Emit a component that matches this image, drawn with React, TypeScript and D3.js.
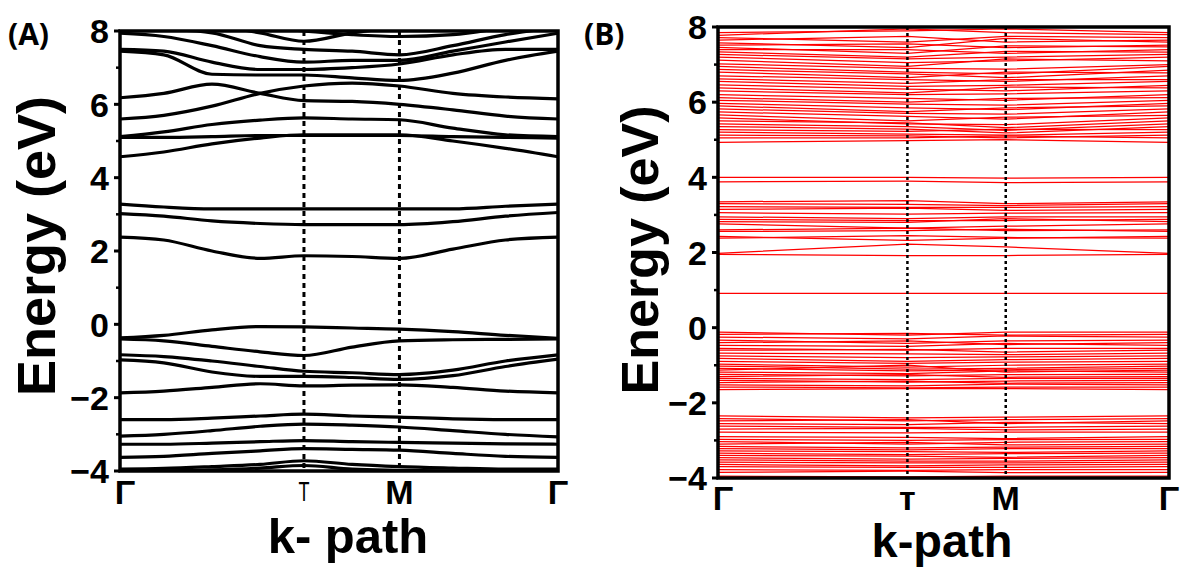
import React from 'react';
import * as d3 from 'd3';

// ---------- DATA ----------
const kLabelsA = ['Γ', 'T', 'M', 'Γ'];
const kLabelsB = ['Γ', 'т', 'M', 'Γ'];
const kTicks = [0, 0.42, 0.638, 1];
const kGridA = [0, 0.1, 0.21, 0.32, 0.42, 0.53, 0.638, 0.76, 0.88, 1];
const yTicks = [-4, -2, 0, 2, 4, 6, 8];
const yMinor = [-3, -1, 1, 3, 5, 7];

// Panel A bands (values at kGridA)
const bandsAcond = [
  [4.57, 4.7, 4.92, 5.08, 5.17, 5.17, 5.17, 5.0, 4.8, 4.57],
  [5.1, 5.1, 5.12, 5.15, 5.15, 5.15, 5.15, 5.12, 5.1, 5.08],
  [5.12, 5.25, 5.45, 5.57, 5.63, 5.6, 5.58, 5.35, 5.17, 5.12],
  [5.6, 5.7, 5.95, 6.3, 6.5, 6.58, 6.5, 6.3, 6.2, 6.15],
  [6.18, 6.3, 6.55, 6.3, 6.1, 6.08, 6.0, 5.85, 5.68, 5.6],
  [7.45, 7.35, 6.82, 6.8, 6.8, 6.72, 6.65, 6.85, 7.2, 7.45],
  [7.5, 7.45, 7.15, 6.95, 6.95, 7.0, 7.1, 7.35, 7.5, 7.5],
  [7.94, 7.85, 7.6, 7.3, 7.15, 7.2, 7.2, 7.45, 7.7, 7.94],
  [8.1, 8.05, 7.95, 7.6, 7.5, 7.45, 7.35, 7.6, 7.9, 8.1],
  [8.3, 8.25, 8.15, 7.95, 7.72, 7.95, 8.1, 8.2, 8.25, 8.3],
  [8.4, 8.3, 8.2, 8.1, 8.0, 7.9, 7.85, 7.9, 8.1, 8.3],
];
const bandsAgap = [
  [3.28, 3.2, 3.15, 3.15, 3.15, 3.15, 3.15, 3.15, 3.22, 3.28],
  [3.02, 2.95, 2.82, 2.75, 2.72, 2.72, 2.72, 2.8, 2.95, 3.05],
  [2.38, 2.3, 2.0, 1.8, 1.87, 1.85, 1.8, 2.05, 2.3, 2.38],
];
const bandsAval = [
  [-0.37, -0.3, -0.15, -0.06, -0.07, -0.1, -0.13, -0.2, -0.3, -0.38],
  [-0.4, -0.45, -0.6, -0.75, -0.85, -0.62, -0.45, -0.42, -0.41, -0.4],
  [-0.83, -0.88, -1.0, -1.15, -1.28, -1.32, -1.37, -1.25, -1.0, -0.83],
  [-0.97, -1.05, -1.3, -1.42, -1.42, -1.45, -1.5, -1.4, -1.15, -0.95],
  [-1.87, -1.82, -1.72, -1.62, -1.68, -1.66, -1.65, -1.72, -1.82, -1.87],
  [-2.6, -2.6, -2.56, -2.5, -2.45, -2.5, -2.53, -2.58, -2.6, -2.6],
  [-3.05, -3.0, -2.9, -2.78, -2.72, -2.75, -2.8, -2.9, -3.0, -3.07],
  [-3.27, -3.27, -3.24, -3.2, -3.17, -3.2, -3.22, -3.24, -3.26, -3.27],
  [-3.63, -3.6, -3.52, -3.45, -3.39, -3.41, -3.43, -3.52, -3.6, -3.63],
  [-3.95, -3.93, -3.88, -3.82, -3.72, -3.82, -3.88, -3.92, -3.95, -3.95],
  [-4.03, -4.0, -3.97, -3.92, -3.85, -3.95, -3.98, -4.0, -4.0, -4.03],
];

// Panel B bands (values at Γ, т, M, Γ)
const bandsBcond = [
  [7.85, 7.9, 7.95, 7.85], [7.78, 7.95, 7.85, 7.8], [7.72, 7.6, 7.75, 7.72],
  [7.65, 7.75, 7.6, 7.65], [7.58, 7.45, 7.7, 7.6], [7.52, 7.55, 7.45, 7.52],
  [7.46, 7.3, 7.5, 7.47], [7.4, 7.4, 7.3, 7.4], [7.34, 7.2, 7.35, 7.33],
  [7.27, 7.15, 7.2, 7.27], [7.2, 7.05, 7.1, 7.2], [7.12, 6.95, 7.15, 7.1],
  [7.02, 6.9, 6.88, 7.0], [6.95, 6.8, 6.75, 6.95], [6.87, 6.75, 6.65, 6.85],
  [6.8, 6.65, 6.8, 6.78], [6.7, 6.6, 6.55, 6.7], [6.62, 6.5, 6.6, 6.6],
  [6.55, 6.42, 6.45, 6.55], [6.46, 6.35, 6.3, 6.45], [6.38, 6.25, 6.4, 6.38],
  [6.3, 6.2, 6.22, 6.3], [6.2, 6.1, 6.05, 6.2], [6.12, 6.0, 6.1, 6.12],
  [6.05, 5.95, 5.92, 6.05], [5.97, 5.85, 5.8, 5.97], [5.9, 5.75, 5.85, 5.9],
  [5.82, 5.7, 5.68, 5.82], [5.74, 5.62, 5.55, 5.74], [5.66, 5.5, 5.6, 5.65],
  [5.58, 5.42, 5.4, 5.58], [5.5, 5.45, 5.32, 5.5], [5.42, 5.35, 5.25, 5.42],
  [5.35, 5.28, 5.18, 5.35], [5.27, 5.22, 5.28, 5.27], [5.2, 5.15, 5.12, 5.2],
  [5.12, 5.1, 5.05, 5.12], [5.05, 5.05, 5.1, 5.05], [4.93, 4.98, 5.0, 4.93],
];
const bandsBmid = [
  [4.0, 4.0, 3.98, 4.0], [3.88, 3.9, 3.86, 3.88],
  [3.35, 3.38, 3.3, 3.35], [3.3, 3.28, 3.25, 3.3], [3.22, 3.2, 3.2, 3.22],
  [3.15, 3.18, 3.12, 3.15], [3.06, 3.02, 3.05, 3.06], [2.95, 2.9, 2.95, 2.95],
  [2.88, 2.85, 2.85, 2.88], [2.82, 2.8, 2.9, 2.82], [2.76, 2.65, 2.7, 2.76],
  [2.6, 2.65, 2.58, 2.6], [2.56, 2.58, 2.62, 2.56], [2.43, 2.32, 2.38, 2.43],
  [2.38, 2.45, 2.4, 2.38], [1.98, 2.22, 2.15, 1.98], [1.95, 1.92, 1.92, 1.95],
  [0.91, 0.91, 0.91, 0.91],
];
const bandsBval1 = [
  [-0.12, -0.2, -0.12, -0.12], [-0.18, -0.15, -0.2, -0.18], [-0.25, -0.3, -0.22, -0.25],
  [-0.33, -0.42, -0.35, -0.33], [-0.4, -0.35, -0.45, -0.4], [-0.47, -0.5, -0.42, -0.47],
  [-0.55, -0.6, -0.55, -0.55], [-0.6, -0.58, -0.65, -0.6], [-0.68, -0.7, -0.72, -0.68],
  [-0.75, -0.8, -0.78, -0.75], [-0.82, -0.9, -0.85, -0.82], [-0.9, -0.95, -0.92, -0.9],
  [-0.97, -1.05, -1.0, -0.97], [-1.02, -1.1, -1.08, -1.02], [-1.08, -1.15, -1.12, -1.08],
  [-1.13, -1.0, -1.18, -1.13], [-1.18, -1.22, -1.15, -1.18], [-1.24, -1.28, -1.25, -1.24],
  [-1.3, -1.25, -1.32, -1.3], [-1.35, -1.38, -1.35, -1.35], [-1.4, -1.45, -1.42, -1.4],
  [-1.46, -1.42, -1.48, -1.46], [-1.52, -1.55, -1.5, -1.52], [-1.58, -1.6, -1.58, -1.58],
  [-1.65, -1.62, -1.62, -1.65],
];
const bandsBval2 = [
  [-2.35, -2.4, -2.38, -2.35], [-2.42, -2.48, -2.45, -2.42], [-2.48, -2.45, -2.55, -2.48],
  [-2.55, -2.58, -2.52, -2.55], [-2.62, -2.65, -2.65, -2.62], [-2.7, -2.68, -2.72, -2.7],
  [-2.78, -2.8, -2.78, -2.78], [-2.9, -2.92, -2.95, -2.9], [-2.97, -3.0, -2.98, -2.97],
  [-3.03, -3.1, -3.05, -3.03], [-3.1, -3.05, -3.12, -3.1], [-3.16, -3.2, -3.18, -3.16],
  [-3.22, -3.25, -3.22, -3.22], [-3.28, -3.3, -3.32, -3.28], [-3.34, -3.38, -3.35, -3.34],
  [-3.4, -3.42, -3.45, -3.4], [-3.46, -3.5, -3.48, -3.46], [-3.52, -3.55, -3.55, -3.52],
  [-3.58, -3.6, -3.6, -3.58], [-3.64, -3.68, -3.65, -3.64], [-3.7, -3.72, -3.72, -3.7],
  [-3.78, -3.8, -3.78, -3.78], [-3.85, -3.82, -3.86, -3.85], [-3.95, -3.97, -3.95, -3.95],
];

// ---------- COMPONENTS ----------
const FONT = '"Liberation Sans", Arial, sans-serif';

type PanelProps = {
  id: string;
  left: number; right: number; top: number; bottom: number;
  bands: number[][];
  kGrid: number[];
  curved: boolean;
  color: string;
  lineWidth: number;
  dashWidth: number;
  dash: string;
  kLabels: string[];
  tag: string; tagX: number;
  ylabX: number; ylabY: number; ylabSize: number;
  xlab: string; xlabX: number; xlabY: number; xlabSize: number;
  kLabY: number;
  smallT: boolean;
};

function Panel(p: PanelProps) {
  const x = d3.scaleLinear().domain([0, 1]).range([p.left, p.right]);
  const y = d3.scaleLinear().domain([-4, 8]).range([p.bottom, p.top]);
  const line = d3.line<number>()
    .x((_, i) => x(p.kGrid[i]))
    .y((d) => y(d))
    .curve(p.curved ? d3.curveMonotoneX : d3.curveLinear);
  const fmt = (v: number) => (v < 0 ? '\u2212' + Math.abs(v) : String(v));
  return (
    <g>
      <defs>
        <clipPath id={'clip' + p.id}>
          <rect x={p.left} y={p.top} width={p.right - p.left} height={p.bottom - p.top} />
        </clipPath>
      </defs>
      <g clipPath={`url(#clip${p.id})`}>
        {p.bands.map((b, i) => (
          <path key={i} d={line(b) || ''} fill="none" stroke={p.color} strokeWidth={p.lineWidth} />
        ))}
      </g>
      {kTicks.slice(1, 3).map((k, i) => (
        <line key={i} x1={x(k)} x2={x(k)} y1={p.top} y2={p.bottom} stroke="#000"
          strokeWidth={p.dashWidth} strokeDasharray={p.dash} />
      ))}
      <rect x={p.left} y={p.top} width={p.right - p.left} height={p.bottom - p.top}
        fill="none" stroke="#000" strokeWidth={3.5} />
      {yTicks.map((v) => (
        <g key={v}>
          <line x1={p.left - 6} x2={p.left} y1={y(v)} y2={y(v)} stroke="#000" strokeWidth={3} />
          <text x={p.left - 11} y={y(v)} dy="0.36em" textAnchor="end" fontFamily={FONT}
            fontWeight="bold" fontSize={34}>{fmt(v)}</text>
        </g>
      ))}
      {yMinor.map((v) => (
        <line key={v} x1={p.left - 4} x2={p.left} y1={y(v)} y2={y(v)} stroke="#000" strokeWidth={2.5} />
      ))}
      {kTicks.map((k, i) => {
        const isT = i === 1;
        const lx = i === 0 ? x(k) + 5 : x(k);
        if (isT && p.smallT) {
          return (
            <text key={i} x={lx} y={p.kLabY - 3} textAnchor="middle" fontFamily={FONT}
              fontWeight="normal" fontSize={28} textLength={11} lengthAdjust="spacingAndGlyphs">{p.kLabels[i]}</text>
          );
        }
        return (
          <text key={i} x={lx} y={p.kLabY} textAnchor="middle" fontFamily={FONT}
            fontWeight="bold" fontSize={34}>{p.kLabels[i]}</text>
        );
      })}
      <text transform={`translate(${p.ylabX},${p.ylabY}) rotate(-90)`} textAnchor="middle"
        fontFamily={FONT} fontWeight="bold" fontSize={p.ylabSize}>Energy (eV)</text>
      <text x={p.xlabX} y={p.xlabY} textAnchor="middle" fontFamily={FONT} fontWeight="bold"
        fontSize={p.xlabSize}>{p.xlab}</text>
      <text x={p.tagX} y={45} fontFamily='"Open Sans", sans-serif' fontWeight="bold" fontSize={30}>{p.tag}</text>
    </g>
  );
}

export default function App() {
  const bandsA = [...bandsAcond, ...bandsAgap, ...bandsAval];
  const bandsB = [...bandsBcond, ...bandsBmid, ...bandsBval1, ...bandsBval2];
  return (
    <svg width={1183} height={568} style={{ position: 'absolute', left: 0, top: 0, display: 'block', background: '#fff' }}>
      <rect x={0} y={0} width={1183} height={568} fill="#fff" />
      <Panel id="A" left={120} right={558} top={31} bottom={471} bands={bandsA} kGrid={kGridA}
        curved={true} color="#000" lineWidth={3.2} dashWidth={3} dash="5 4" kLabels={kLabelsA}
        tag="(A)" tagX={8} ylabX={55} ylabY={246} ylabSize={54}
        xlab="k- path" xlabX={348} xlabY={553} xlabSize={49} kLabY={504} smallT={true} />
      <Panel id="B" left={718} right={1169} top={27} bottom={478} bands={bandsB} kGrid={kTicks}
        curved={false} color="#ff0000" lineWidth={1.25} dashWidth={2.5} dash="3 3" kLabels={kLabelsB}
        tag="(B)" tagX={584} ylabX={658} ylabY={250} ylabSize={52}
        xlab="k-path" xlabX={942} xlabY={557} xlabSize={47} kLabY={510} smallT={false} />
    </svg>
  );
}
